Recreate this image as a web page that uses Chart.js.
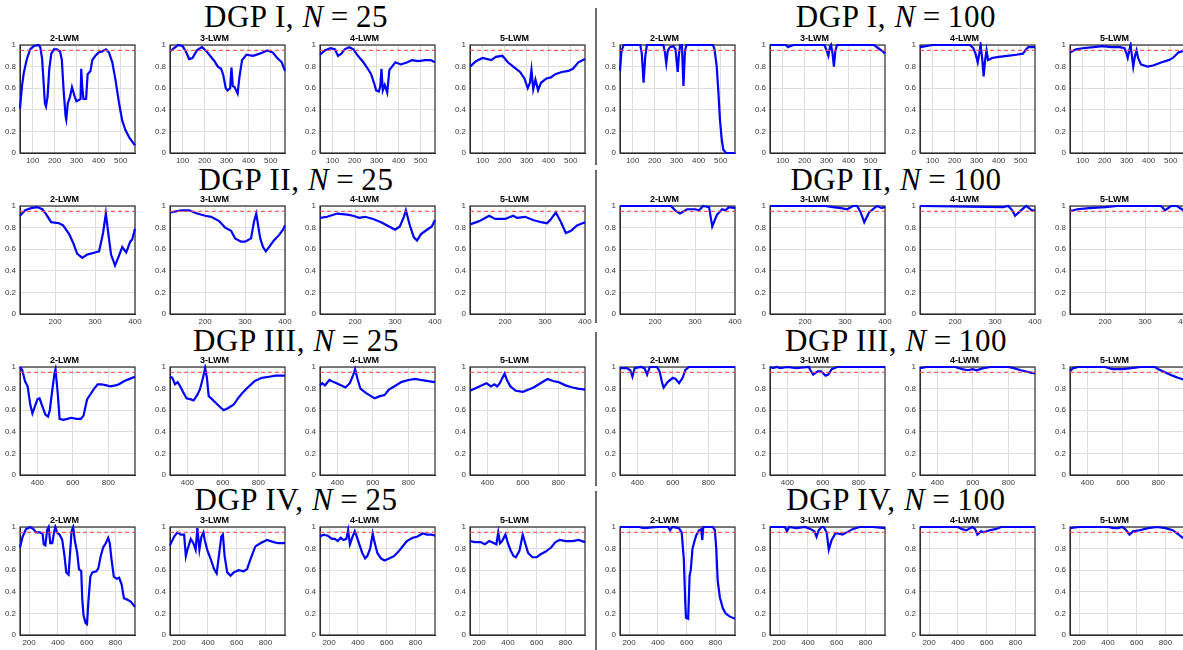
<!DOCTYPE html>
<html>
<head>
<meta charset="utf-8">
<script src="https://cdn.jsdelivr.net/npm/chart.js@4.4.1/dist/chart.umd.min.js"></script>
<style>
  body { margin: 0; background: #fff; width: 1183px; height: 650px; overflow: hidden; position: relative; }
  canvas { position: absolute; }
  .grp { position: absolute; transform: translateX(-50%); font-family: "Liberation Serif", "DejaVu Serif", serif;
         font-size: 31px; line-height: 30px; letter-spacing: 0.6px; white-space: nowrap; color: #000; }
  .grp .eq { margin: 0 7px; }
  .sep { position: absolute; left: 595px; width: 2px; background: #6e6e6e; }
</style>
</head>
<body>
<script>
// ---- data ----
var dgpNames = ['I', 'II', 'III', 'IV'];
var sampleSizes = [25, 100];
var panelTitles = ['2-LWM', '3-LWM', '4-LWM', '5-LWM'];
var nominalLevel = 0.95;
var yTicks = [0, 0.2, 0.4, 0.6, 0.8, 1];

var xTicksRow = [[100, 200, 300, 400, 500], [200, 300, 400], [400, 600, 800], [200, 400, 600, 800]];
var xMinRow = [43, 112, 302, 137];
var xMaxRow = [565, 400, 950, 935];

// DGP I
var dgp1n25lwm2 = [[43,.41],[52,.62],[60,.74],[74,.87],[89,.96],[105,.99],[127,1],[135,.98],[143,.88],[150,.66],[156,.46],[161,.43],[168,.52],[176,.78],[185,.92],[197,.96],[211,.96],[225,.94],[233,.86],[241,.58],[250,.34],[253,.31],[260,.46],[270,.52],[279,.61],[290,.53],[299,.48],[310,.49],[318,.50],[321,.78],[326,.60],[331,.50],[343,.50],[350,.73],[363,.76],[371,.86],[385,.90],[400,.93],[415,.94],[433,.96],[447,.93],[462,.84],[477,.67],[492,.47],[507,.30],[522,.21],[540,.14],[565,.07]];
var dgp1n25lwm3 = [[43,.94],[60,.97],[80,1],[100,.99],[115,.94],[130,.87],[145,.88],[165,.95],[188,.98],[205,.95],[225,.90],[245,.85],[260,.80],[275,.78],[285,.72],[296,.60],[304,.58],[316,.60],[322,.79],[328,.62],[336,.61],[343,.58],[350,.55],[358,.70],[370,.86],[390,.91],[420,.90],[450,.92],[485,.95],[510,.93],[530,.88],[550,.84],[565,.76]];
var dgp1n25lwm4 = [[43,.91],[65,.95],[90,.97],[110,.96],[125,.90],[140,.92],[155,.96],[175,.98],[195,.96],[215,.90],[240,.84],[260,.78],[275,.73],[288,.65],[298,.58],[310,.57],[317,.62],[322,.78],[328,.58],[337,.63],[348,.56],[358,.77],[370,.80],[385,.84],[410,.82],[440,.84],[460,.86],[490,.85],[520,.86],[545,.86],[565,.84]];
var dgp1n25lwm5 = [[43,.80],[70,.85],[100,.88],[140,.86],[160,.89],[190,.90],[215,.84],[245,.79],[270,.75],[290,.69],[305,.60],[315,.65],[322,.77],[330,.59],[340,.68],[352,.58],[365,.65],[390,.69],[410,.70],[430,.73],[460,.75],[490,.76],[510,.78],[535,.84],[565,.87]];
var dgp1n100lwm2 = [[43,.76],[50,.95],[60,1],[135,1],[142,.92],[150,.65],[158,.90],[165,1],[240,1],[247,.93],[253,.83],[260,.95],[270,.98],[285,.99],[295,.96],[300,.85],[305,.75],[310,.90],[316,1],[324,1],[331,.62],[338,.95],[345,1],[465,1],[472,.96],[482,.80],[490,.55],[497,.30],[505,.12],[512,.03],[525,0],[565,0]];
var dgp1n100lwm3 = [[43,1],[115,1],[125,.98],[135,.99],[150,1],[290,1],[300,.95],[308,.90],[315,.98],[320,1],[327,.92],[333,.80],[340,.95],[347,1],[515,1],[535,.97],[555,.94],[565,.92]];
var dgp1n100lwm4 = [[43,.98],[70,.99],[100,1],[270,1],[285,.97],[295,.92],[305,.84],[312,.92],[318,1],[325,.88],[332,.71],[338,.85],[345,.95],[352,.86],[370,.88],[400,.89],[440,.90],[480,.91],[510,.92],[525,.96],[535,.98],[565,.98]];
var dgp1n100lwm5 = [[43,.93],[70,.96],[100,.97],[150,.98],[190,.99],[230,.98],[270,.98],[290,.97],[298,.93],[305,.88],[312,.95],[318,1],[324,.90],[330,.80],[338,.90],[345,.95],[352,.88],[365,.82],[395,.80],[420,.81],[460,.84],[490,.86],[510,.88],[535,.93],[565,.95]];

// DGP II
var dgp2n25lwm2 = [[112,.91],[125,.96],[140,.98],[155,.99],[168,.97],[178,.92],[190,.85],[210,.84],[220,.82],[235,.74],[245,.66],[255,.56],[268,.52],[280,.55],[300,.57],[310,.58],[320,.75],[327,.93],[333,.75],[340,.55],[350,.45],[360,.54],[368,.62],[378,.57],[388,.67],[393,.69],[400,.79]];
var dgp2n25lwm3 = [[112,.94],[140,.96],[160,.96],[180,.93],[200,.91],[215,.90],[235,.86],[250,.80],[265,.77],[275,.70],[290,.67],[300,.67],[315,.70],[322,.85],[328,.93],[338,.70],[345,.62],[352,.58],[360,.62],[372,.68],[385,.73],[395,.78],[400,.82]];
var dgp2n25lwm4 = [[113,.89],[130,.90],[155,.93],[180,.92],[195,.91],[210,.89],[225,.90],[245,.88],[265,.85],[285,.81],[300,.78],[312,.81],[322,.90],[327,.96],[337,.82],[347,.71],[355,.68],[365,.74],[380,.78],[392,.81],[400,.87]];
var dgp2n25lwm5 = [[112,.83],[135,.86],[160,.91],[175,.88],[200,.88],[220,.91],[230,.89],[250,.90],[270,.87],[290,.85],[305,.84],[315,.88],[327,.94],[340,.85],[352,.75],[365,.77],[380,.82],[400,.85]];
var dgp2n100lwm2 = [[112,1],[240,1],[250,.96],[262,.93],[280,.97],[300,.97],[310,.96],[320,1],[335,.99],[343,.81],[355,.92],[368,.97],[376,.96],[385,.99],[400,.98]];
var dgp2n100lwm3 = [[112,1],[250,1],[270,.99],[290,.98],[305,.97],[320,1],[330,1],[338,.95],[348,.85],[360,.94],[380,1],[392,.98],[400,.99]];
var dgp2n100lwm4 = [[112,1],[320,.99],[333,1],[343,.96],[350,.91],[365,.96],[378,1],[392,.96],[400,.96]];
var dgp2n100lwm5 = [[112,.95],[130,.97],[160,.98],[200,.99],[230,1],[340,1],[350,.96],[365,1],[380,1],[392,.97],[400,.95]];

// DGP III
var dgp3n25lwm2 = [[302,1],[315,.97],[330,.87],[345,.82],[360,.65],[372,.57],[385,.63],[400,.70],[412,.71],[425,.65],[445,.56],[460,.54],[470,.60],[485,.80],[497,.95],[502,.98],[515,.75],[525,.52],[545,.51],[570,.52],[590,.53],[620,.52],[645,.52],[660,.55],[680,.70],[700,.75],[720,.80],[740,.84],[760,.84],[790,.83],[810,.82],[840,.83],[860,.84],[890,.87],[920,.89],[950,.91]];
var dgp3n25lwm3 = [[302,.91],[315,.90],[330,.84],[345,.86],[360,.82],[375,.77],[395,.71],[420,.70],[435,.69],[455,.74],[470,.79],[488,.90],[500,.99],[510,.90],[520,.73],[540,.70],[565,.66],[590,.62],[605,.60],[630,.62],[660,.65],[690,.72],[710,.76],[740,.81],[780,.87],[820,.90],[860,.91],[900,.92],[950,.92]];
var dgp3n25lwm4 = [[302,.83],[315,.85],[330,.83],[355,.88],[380,.86],[420,.83],[445,.81],[470,.85],[490,.93],[500,.98],[515,.88],[530,.80],[560,.76],[590,.73],[610,.71],[640,.73],[665,.74],[690,.79],[720,.82],[760,.86],[800,.88],[840,.89],[870,.88],[910,.87],[950,.86]];
var dgp3n25lwm5 = [[302,.78],[330,.80],[370,.83],[395,.85],[420,.82],[440,.84],[455,.82],[470,.85],[485,.90],[497,.94],[510,.88],[530,.82],[560,.78],[600,.77],[630,.79],[660,.81],[690,.84],[720,.87],[740,.89],[770,.87],[800,.86],[840,.83],[880,.81],[910,.80],[950,.79]];
var dgp3n100lwm2 = [[302,.99],[340,.99],[360,.97],[372,.91],[385,.99],[420,1],[440,.99],[455,.93],[470,1],[510,1],[525,.96],[540,.85],[548,.81],[570,.86],[600,.90],[615,.89],[635,.85],[655,.90],[670,.97],[690,1],[950,1]];
var dgp3n100lwm3 = [[302,1],[320,.99],[340,1],[360,.99],[400,1],[450,.99],[520,1],[530,.97],[545,.93],[570,.96],[590,.96],[615,.92],[630,.93],[650,.98],[680,1],[950,1]];
var dgp3n100lwm4 = [[302,.99],[340,1],[500,1],[540,.98],[570,.97],[600,.98],[620,.97],[660,.99],[700,1],[800,1],[830,.99],[870,.97],[920,.95],[950,.94]];
var dgp3n100lwm5 = [[302,.96],[320,.99],[350,1],[500,1],[540,.98],[600,.98],[650,.99],[700,1],[780,1],[800,.98],[840,.95],[880,.92],[910,.90],[950,.88]];

// DGP IV
var dgp4n25lwm2 = [[137,.81],[155,.91],[179,.98],[207,1],[230,.98],[248,.95],[275,.95],[293,.94],[302,.84],[313,.83],[325,.97],[336,1],[347,.85],[361,.85],[373,.95],[382,1],[393,.95],[411,.93],[430,.88],[446,.73],[458,.58],[474,.56],[486,.79],[495,.96],[506,1],[518,.87],[534,.76],[546,.61],[562,.59],[569,.33],[578,.18],[592,.11],[602,.10],[611,.30],[625,.54],[639,.58],[667,.59],[681,.62],[697,.73],[714,.81],[732,.85],[749,.90],[760,.85],[772,.70],[788,.54],[807,.52],[825,.53],[842,.47],[858,.34],[877,.33],[905,.31],[923,.28],[935,.26]];
var dgp4n25lwm3 = [[137,.83],[165,.91],[188,.95],[212,.93],[235,.93],[247,.73],[258,.79],[281,.89],[299,.85],[315,.79],[327,.99],[341,.79],[355,.91],[369,.95],[378,.88],[397,.78],[420,.70],[443,.61],[461,.57],[477,.74],[493,.91],[504,.93],[516,.73],[534,.58],[557,.55],[580,.58],[614,.60],[649,.59],[672,.61],[695,.70],[729,.82],[764,.85],[810,.88],[856,.86],[890,.85],[935,.85]];
var dgp4n25lwm4 = [[137,.91],[160,.93],[190,.92],[220,.89],[240,.89],[260,.87],[280,.90],[300,.88],[320,.89],[332,.97],[345,.84],[360,.90],[378,.96],[390,.92],[410,.84],[430,.76],[450,.71],[465,.73],[485,.80],[503,.94],[515,.86],[535,.76],[560,.71],[585,.69],[620,.71],[650,.73],[680,.77],[710,.82],[740,.87],[780,.90],[810,.91],[850,.94],[880,.93],[910,.93],[935,.92]];
var dgp4n25lwm5 = [[137,.87],[170,.86],[210,.86],[240,.84],[270,.87],[305,.85],[320,.84],[333,.95],[345,.85],[360,.87],[383,.93],[400,.85],[420,.78],[440,.73],[455,.72],[480,.78],[503,.93],[520,.85],[540,.76],[570,.72],[600,.72],[630,.75],[660,.77],[700,.81],[730,.86],[760,.88],[800,.87],[850,.87],[890,.88],[935,.86]];
var dgp4n100lwm2 = [[137,1],[270,1],[300,.99],[400,1],[470,1],[485,.97],[500,1],[545,.99],[565,.95],[580,.70],[590,.30],[595,.16],[610,.15],[620,.55],[628,.60],[640,.80],[650,.85],[665,.92],[685,.97],[700,.98],[708,.88],[715,1],[780,1],[795,.97],[805,.80],[815,.50],[830,.35],[850,.25],[870,.20],[900,.17],[935,.15]];
var dgp4n100lwm3 = [[137,1],[240,1],[255,.96],[270,1],[320,.99],[380,1],[420,.98],[445,.96],[460,.91],[475,.97],[495,1],[510,1],[530,.95],[545,.79],[565,.88],[590,.94],[610,.94],[640,.93],[670,.95],[710,.98],[760,1],[850,1],[935,.99]];
var dgp4n100lwm4 = [[137,1],[400,1],[430,.98],[460,.97],[500,1],[520,.98],[535,.93],[560,.96],[580,.95],[620,.97],[660,.98],[700,1],[935,1]];
var dgp4n100lwm5 = [[137,.99],[200,1],[400,1],[440,.99],[470,.99],[500,1],[520,.98],[550,.93],[575,.96],[620,.97],[680,.99],[740,1],[800,.99],[850,.97],[880,.94],[920,.90],[935,.88]];

// panel table: rows are DGPs, columns are N=25 (lwm 2..5) then N=100 (lwm 2..5)
var panelData = [
  [dgp1n25lwm2, dgp1n25lwm3, dgp1n25lwm4, dgp1n25lwm5, dgp1n100lwm2, dgp1n100lwm3, dgp1n100lwm4, dgp1n100lwm5],
  [dgp2n25lwm2, dgp2n25lwm3, dgp2n25lwm4, dgp2n25lwm5, dgp2n100lwm2, dgp2n100lwm3, dgp2n100lwm4, dgp2n100lwm5],
  [dgp3n25lwm2, dgp3n25lwm3, dgp3n25lwm4, dgp3n25lwm5, dgp3n100lwm2, dgp3n100lwm3, dgp3n100lwm4, dgp3n100lwm5],
  [dgp4n25lwm2, dgp4n25lwm3, dgp4n25lwm4, dgp4n25lwm5, dgp4n100lwm2, dgp4n100lwm3, dgp4n100lwm4, dgp4n100lwm5]
];

// ---- layout ----
var plotLeft = [20, 170, 320, 470, 620, 770, 920, 1070];
var plotTop = [45, 206, 367, 527];
var plotW = 115, plotH = 108;
var padL = 26, padT = 14, padB = 14, padR = 12;
var tickFont = { family: '"Liberation Sans", Arial, sans-serif', size: 8 };

// axes box (MATLAB "box on")
var boxPlugin = {
  id: 'axesBox',
  beforeDatasetsDraw: function(chart) {
    var a = chart.chartArea, ctx = chart.ctx;
    ctx.save();
    ctx.strokeStyle = '#2b2b2b';
    ctx.lineWidth = 1.2;
    ctx.strokeRect(a.left, a.top, a.right - a.left, a.bottom - a.top);
    ctx.restore();
  }
};

function addText(html, cls, x, y) {
  var d = document.createElement('div');
  d.className = cls;
  d.style.left = x + 'px';
  d.style.top = y + 'px';
  d.innerHTML = html;
  document.body.appendChild(d);
}

// group titles and separators
var titleTop = [2, 165, 326, 485];
var sepSpans = [[8, 165], [170, 323], [332, 486], [491, 650]];
for (var r = 0; r < 4; r++) {
  for (var h = 0; h < 2; h++) {
    addText('DGP ' + dgpNames[r] + ', <i>N</i><span class="eq">=</span>' + sampleSizes[h], 'grp', 296 + 600 * h, titleTop[r]);
  }
  var s = document.createElement('div');
  s.className = 'sep';
  s.style.top = sepSpans[r][0] + 'px';
  s.style.height = (sepSpans[r][1] - sepSpans[r][0]) + 'px';
  document.body.appendChild(s);
}

function makePanel(r, c) {
  var cv = document.createElement('canvas');
  cv.width = padL + plotW + padR;
  cv.height = padT + plotH + padB;
  cv.style.left = (plotLeft[c] - padL) + 'px';
  cv.style.top = (plotTop[r] - padT) + 'px';
  document.body.appendChild(cv);

  var xmin = xMinRow[r], xmax = xMaxRow[r];
  var series = panelData[r][c];

  new Chart(cv, {
    type: 'line',
    data: {
      datasets: [{
        data: [{ x: xmin, y: nominalLevel }, { x: xmax, y: nominalLevel }],
        borderColor: 'rgba(255, 70, 70, 0.85)',
        borderWidth: 1.2,
        borderDash: [4, 3],
        pointRadius: 0
      }, {
        data: series.map(function(p) { return { x: p[0], y: p[1] }; }),
        borderColor: '#0000ff',
        borderWidth: 2.2,
        pointRadius: 0,
        tension: 0,
        clip: 3
      }]
    },
    options: {
      responsive: false,
      animation: false,
      devicePixelRatio: 1,
      layout: { padding: { right: padR } },
      plugins: {
        legend: { display: false },
        tooltip: { enabled: false },
        title: {
          display: true,
          text: panelTitles[c % 4],
          color: '#000',
          font: { family: '"Liberation Sans", Arial, sans-serif', size: 9, weight: 'bold', lineHeight: 1.2 },
          padding: { top: 2, bottom: 1.2 }
        }
      },
      scales: {
        x: {
          type: 'linear',
          min: xmin,
          max: xmax,
          afterBuildTicks: function(sc) { sc.ticks = xTicksRow[r].map(function(v) { return { value: v }; }); },
          afterFit: function(sc) { sc.height = padB; },
          grid: { color: '#dedede', drawTicks: false },
          border: { color: '#2b2b2b' },
          ticks: { font: tickFont, color: '#3a3a3a', padding: 3, maxRotation: 0, autoSkip: false }
        },
        y: {
          min: 0,
          max: 1,
          afterBuildTicks: function(sc) { sc.ticks = yTicks.map(function(v) { return { value: v }; }); },
          afterFit: function(sc) { sc.width = padL; },
          grid: { color: '#dedede', drawTicks: false },
          border: { color: '#2b2b2b' },
          ticks: {
            font: tickFont, color: '#3a3a3a', padding: 4,
            callback: function(v) { return String(Math.round(v * 10) / 10); }
          }
        }
      }
    },
    plugins: [boxPlugin]
  });
}

for (var r = 0; r < 4; r++) {
  for (var c = 0; c < 8; c++) {
    makePanel(r, c);
  }
}
</script>
</body>
</html>
